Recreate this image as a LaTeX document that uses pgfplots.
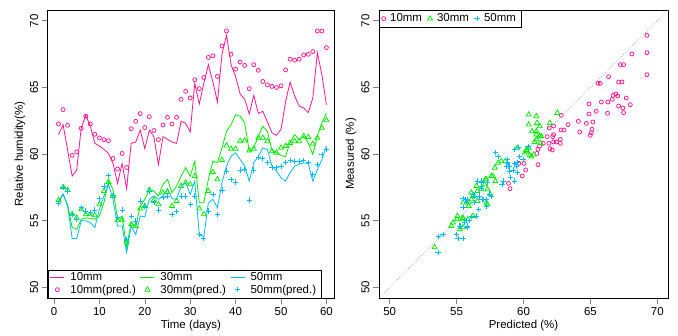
\documentclass[border=0pt]{standalone}
\usepackage{fontspec}
\setmainfont{Liberation Sans}
\usepackage{pgfplots}
\usepackage{pgfplotstable}
\pgfplotsset{compat=1.18}
\definecolor{cpink}{RGB}{255,20,147}
\definecolor{cgreen}{RGB}{0,235,0}
\definecolor{cblue}{RGB}{0,185,255}
\pgfdeclareplotmark{legline}{\pgfpathmoveto{\pgfqpoint{-7bp}{0pt}}\pgfpathlineto{\pgfqpoint{7bp}{0pt}}\pgfusepathqstroke}

\pgfplotstableread{
d m10 p10 m30 p30 m50 p50
1 61.45 62.25 56.48 56.55 56.35 56.30
2 62.20 63.33 56.97 57.52 57.00 57.47
3 60.30 62.15 56.23 57.30 56.10 57.22
4 58.35 59.90 54.50 55.48 53.66 55.48
5 58.80 60.16 54.36 55.23 53.66 55.10
6 61.95 61.93 55.10 55.85 55.00 55.98
7 62.90 62.83 55.20 55.48 55.00 55.73
8 62.10 62.25 55.18 55.48 54.86 55.60
9 60.80 61.48 55.10 55.40 54.48 55.80
10 60.60 61.20 55.35 56.23 55.85 56.65
11 60.35 61.08 56.35 57.22 56.85 57.60
12 60.05 61.00 57.97 57.90 57.72 58.40
13 59.30 59.66 57.35 56.85 56.60 56.90
14 57.80 58.87 55.10 55.03 54.60 55.23
15 59.30 60.04 55.35 55.06 54.60 55.80
16 57.40 58.99 53.00 53.36 52.60 53.61
17 60.80 61.90 54.86 54.73 54.60 55.30
18 60.90 62.45 54.60 54.60 53.96 54.98
19 61.80 63.03 56.10 55.90 55.35 56.48
20 60.40 61.98 56.60 56.10 55.30 56.10
21 61.80 62.80 57.35 57.30 56.60 57.22
22 61.30 61.76 57.22 56.55 56.85 56.35
23 59.20 61.08 56.85 56.23 56.60 55.80
24 61.30 62.18 57.72 57.10 56.85 56.73
25 61.10 62.75 58.10 57.15 57.40 56.85
26 60.90 62.25 57.10 56.10 56.65 55.48
27 60.80 62.75 57.60 56.48 56.60 55.68
28 62.45 64.10 58.34 57.60 57.60 56.85
29 62.30 64.70 58.97 57.85 57.85 56.85
30 61.65 64.20 58.34 57.72 56.97 56.23
31 65.30 65.57 59.46 58.34 57.97 56.85
32 63.75 64.90 56.35 55.90 53.96 53.98
33 65.30 65.74 56.35 55.48 53.80 53.66
34 66.70 67.24 58.10 57.22 56.35 55.73
35 65.40 67.36 59.46 58.64 56.60 56.97
36 63.90 65.82 59.34 58.10 55.98 55.48
37 67.50 68.10 60.46 59.54 57.85 57.30
38 68.90 69.23 61.70 60.64 59.10 58.72
39 66.70 67.48 62.20 60.39 59.84 58.10
40 65.80 66.36 62.95 60.39 60.09 57.90
41 64.50 66.90 62.83 60.96 59.59 58.80
42 64.10 66.64 62.33 61.01 59.10 58.85
43 63.00 64.90 60.21 60.26 57.97 56.55
44 64.40 66.70 60.46 60.39 59.34 58.80
45 63.05 66.28 61.33 61.21 59.84 59.71
46 63.20 65.44 62.08 61.21 60.46 59.64
47 62.40 65.19 61.70 60.96 60.33 59.34
48 61.60 65.07 60.30 60.21 59.10 58.97
49 61.40 64.99 60.10 60.09 58.72 58.97
50 61.85 65.12 59.90 60.46 58.22 59.04
51 63.90 66.31 59.80 60.59 57.97 59.34
52 65.40 67.11 60.90 60.83 58.60 59.54
53 64.35 67.04 61.45 60.96 59.10 59.46
54 63.60 67.11 61.08 60.96 59.22 59.46
55 63.45 67.43 61.33 61.33 59.34 59.51
56 63.10 67.48 60.83 61.28 59.29 59.34
57 64.20 67.68 59.96 60.76 57.97 58.47
58 67.60 69.23 61.33 61.21 58.80 59.22
59 65.95 69.23 62.33 61.96 59.59 59.96
60 63.70 67.98 63.08 62.53 60.58 60.33
}\rh

\pgfplotsset{
  rstyle/.style={
    scale only axis, anchor=south west,
    axis line style={line width=0.7bp},
    tick style={line width=0.6bp},
    tick align=outside, tick pos=left,
    major tick length=6bp,
    every tick label/.append style={font=\fontsize{11.5}{13}\selectfont},
    label style={font=\fontsize{11.5}{13}\selectfont},
    yticklabel style={rotate=90, anchor=south},
    /pgf/number format/assume math mode=true,
    legend style={font=\fontsize{11.5}{13}\selectfont, fill=white},
    legend cell align=left,
  },
  l10/.style={color=cpink, line width=0.8bp, mark=none},
  l30/.style={color=cgreen, line width=0.8bp, mark=none},
  l50/.style={color=cblue, line width=0.8bp, mark=none},
  p10/.style={color=cpink, only marks, mark=o, mark size=2bp, mark options={draw=cpink, line width=0.75bp, solid}},
  p30/.style={color=cgreen, only marks, mark=triangle, mark size=2.9bp, mark options={draw=cgreen, line width=0.75bp, solid}},
  p50/.style={color=cblue, only marks, mark=+, mark size=2.6bp, mark options={draw=cblue, line width=0.75bp, solid}},
}

\begin{document}
\begin{tikzpicture}
\useasboundingbox (0,0) rectangle (678bp,336bp);
\begin{axis}[rstyle,
  at={(47.7bp,38bp)}, width=286.3bp, height=288bp,
  xmin=-1.386, xmax=61.67, ymin=49.2, ymax=70.8,
  xtick={0,10,...,60}, ytick={50,55,...,70},
  xlabel={Time (days)}, ylabel={Relative humidity(\%)},
  xlabel style={at={(axis description cs:0.5,-0.094)}, anchor=center},
  ylabel style={at={(axis description cs:-0.0967,0.5)}, anchor=center},
  legend columns=3,
  legend style={at={(axis description cs:0,0)}, anchor=south west,
    inner xsep=2.5bp, inner ysep=2bp, row sep=0pt,
    nodes={inner xsep=3bp, inner ysep=1.2bp},
    /tikz/every odd column/.append style={column sep=3bp},
    /tikz/every even column/.append style={column sep=1.5bp}},
  legend image code/.code={\draw[#1] plot coordinates {(7bp,0bp)};},
]
\addlegendimage{color=cpink, only marks, mark=legline, mark options={draw=cpink, line width=0.8bp, solid}}\addlegendentry{10mm}
\addlegendimage{color=cgreen, only marks, mark=legline, mark options={draw=cgreen, line width=0.8bp, solid}}\addlegendentry{30mm}
\addlegendimage{color=cblue, only marks, mark=legline, mark options={draw=cblue, line width=0.8bp, solid}}\addlegendentry{50mm}
\addlegendimage{p10}\addlegendentry{10mm(pred.)}
\addlegendimage{p30}\addlegendentry{30mm(pred.)}
\addlegendimage{p50}\addlegendentry{50mm(pred.)}
\addplot[l10, forget plot] table[x=d, y=m10] {\rh};
\addplot[l30, forget plot] table[x=d, y=m30] {\rh};
\addplot[l50, forget plot] table[x=d, y=m50] {\rh};
\addplot[p10, forget plot] table[x=d, y=p10] {\rh};
\addplot[p30, forget plot] table[x=d, y=p30] {\rh};
\addplot[p50, forget plot] table[x=d, y=p50] {\rh};
\end{axis}
\begin{axis}[rstyle,
  at={(379bp,38bp)}, width=289bp, height=288bp,
  xmin=49.2, xmax=70.8, ymin=49.2, ymax=70.8,
  xtick={50,55,...,70}, ytick={50,55,...,70},
  xlabel={Predicted (\%)}, ylabel={Measured (\%)},
  xlabel style={at={(axis description cs:0.5,-0.094)}, anchor=center},
  ylabel style={at={(axis description cs:-0.097,0.5)}, anchor=center},
  legend columns=3,
  legend style={at={(axis description cs:0,1)}, anchor=north west,
    inner xsep=2.5bp, inner ysep=2.5bp,
    nodes={inner xsep=3bp, inner ysep=1.2bp},
    /tikz/every odd column/.append style={column sep=1.5bp},
    /tikz/every even column/.append style={column sep=2.5bp}},
  legend image code/.code={\draw[#1] plot coordinates {(0bp,0bp)};},
]
\addplot[gray, dotted, line width=0.6bp, forget plot] coordinates {(49.2,49.2) (70.8,70.8)};
\addplot[p10] table[x=p10, y=m10] {\rh};\addlegendentry{10mm}
\addplot[p30] table[x=p30, y=m30] {\rh};\addlegendentry{30mm}
\addplot[p50] table[x=p50, y=m50] {\rh};\addlegendentry{50mm}
\end{axis}
\end{tikzpicture}
\end{document}
